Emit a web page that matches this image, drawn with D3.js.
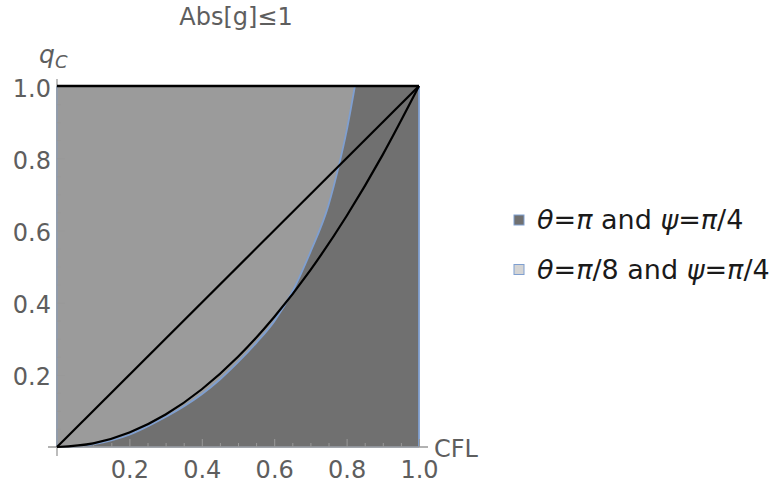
<!DOCTYPE html>
<html>
<head>
<meta charset="utf-8">
<script src="https://cdn.jsdelivr.net/npm/d3@7"></script>
<style>
  html, body { margin: 0; padding: 0; background: #ffffff; }
  svg { display: block; font-family: "DejaVu Sans", sans-serif; }
</style>
</head>
<body>
<svg id="chart" width="772" height="486"></svg>
<script>
// ---- data ----
const titleText = "Abs[g]\u22641";
const xTickValues = [0.2, 0.4, 0.6, 0.8, 1.0];
const yTickValues = [0.2, 0.4, 0.6, 0.8, 1.0];
const minorTickValues = [0.05,0.1,0.15,0.25,0.3,0.35,0.45,0.5,0.55,0.65,0.7,0.75,0.85,0.9,0.95];
// boundary of the theta=pi/8 region (blue curve)
const boundaryCFL = [0, 0.05, 0.1, 0.15, 0.2, 0.25, 0.3, 0.35, 0.4, 0.45, 0.5, 0.55, 0.6, 0.65, 0.7, 0.75, 0.78, 0.8, 0.823];
const boundaryQ   = [0, 0.001, 0.007, 0.018, 0.034, 0.057, 0.083, 0.112, 0.146, 0.187, 0.235, 0.288, 0.348, 0.43, 0.54, 0.67, 0.785, 0.875, 1.0];
// black curve
const curveCFL = [0, 0.1, 0.2, 0.3, 0.4, 0.5, 0.6, 0.7, 0.8, 0.9, 1.0];
const curveQ   = [0, 0.01, 0.04, 0.09, 0.16, 0.25, 0.36, 0.49, 0.64, 0.81, 1.0];
// black diagonal
const diagCFL = [0, 1];
const diagQ   = [0, 1];
// black top line
const topCFL = [0, 1];
const topQ   = [1, 1];
const legendItems = [
  {key: "pi", parts: [["\u03B8", true], ["=", false], ["\u03C0", true], [" and ", false], ["\u03C8", true], ["=", false], ["\u03C0", true], ["/4", false]]},
  {key: "pi8", parts: [["\u03B8", true], ["=", false], ["\u03C0", true], ["/8 and ", false], ["\u03C8", true], ["=", false], ["\u03C0", true], ["/4", false]]}
];

// ---- styles ----
const darkFill = "#707070";
const lightFill = "#9b9b9b";
const blue = "#7f9fd0";
const axisCol = "#999999";
const labelCol = "#5e5e5e";

const svg = d3.select("#chart");
const x = d3.scaleLinear().domain([0, 1]).range([57, 419]);
const y = d3.scaleLinear().domain([0, 1]).range([447, 86]);

const zip = (a, b) => a.map((v, i) => [v, b[i]]);
const line = d3.line().x(d => x(d[0])).y(d => y(d[1]));
const smooth = d3.line().x(d => x(d[0])).y(d => y(d[1])).curve(d3.curveMonotoneX);

// dark region (whole square)
svg.append("rect")
  .attr("x", x(0)).attr("y", y(1))
  .attr("width", x(1) - x(0)).attr("height", y(0) - y(1))
  .attr("fill", darkFill);

// light region: left edge, top, blue boundary back to origin
const bnd = zip(boundaryCFL, boundaryQ);
const lightPath = "M" + x(0) + "," + y(0) + "L" + x(0) + "," + y(1) +
  smooth(bnd.slice().reverse()).replace(/^M[^LC]*/, "L" + x(boundaryCFL[boundaryCFL.length-1]) + "," + y(1)) + "Z";
svg.append("path").attr("d", lightPath).attr("fill", lightFill);

// blue boundaries
svg.append("path").attr("d", smooth(bnd)).attr("fill", "none").attr("stroke", blue).attr("stroke-width", 1.8);
svg.append("path").attr("d", line([[0,0],[0,1]])).attr("stroke", blue).attr("stroke-width", 1.8);
svg.append("path").attr("d", line([[1,0],[1,1]])).attr("stroke", blue).attr("stroke-width", 1.8);
svg.append("path").attr("d", line([[0,0],[1,0]])).attr("stroke", blue).attr("stroke-width", 1.2);

// axes
const gx = svg.append("g").attr("transform", "translate(0," + y(0) + ")");
gx.call(d3.axisBottom(x).tickValues(xTickValues).tickSize(-8).tickPadding(14).tickFormat(d3.format(".1f")));
const gxm = svg.append("g").attr("transform", "translate(0," + y(0) + ")");
gxm.call(d3.axisBottom(x).tickValues(minorTickValues).tickSize(-4).tickFormat(""));
const gy = svg.append("g").attr("transform", "translate(" + x(0) + ",0)");
gy.call(d3.axisLeft(y).tickValues(yTickValues).tickSize(-8).tickPadding(6).tickFormat(d3.format(".1f")));
const gym = svg.append("g").attr("transform", "translate(" + x(0) + ",0)");
gym.call(d3.axisLeft(y).tickValues(minorTickValues).tickSize(-4).tickFormat(""));
[gx, gxm, gy, gym].forEach(g => {
  g.select(".domain").remove();
  g.selectAll(".tick line").attr("stroke", axisCol).attr("stroke-width", 1);
  g.selectAll("text").attr("fill", labelCol).attr("font-size", 24).attr("font-family", "DejaVu Sans, sans-serif");
});
gx.selectAll(".tick text").attr("dy", "0.71em").attr("y", 14);
gy.selectAll(".tick text").attr("dy", "0.42em");
// axis lines (Mathematica-style, extending past the origin)
svg.append("line").attr("x1", 48).attr("x2", 428).attr("y1", y(0)).attr("y2", y(0)).attr("stroke", axisCol).attr("stroke-width", 1.3);
svg.append("line").attr("x1", x(0)).attr("x2", x(0)).attr("y1", 456).attr("y2", 79).attr("stroke", axisCol).attr("stroke-width", 1.3);

// black lines
svg.append("path").attr("d", line(zip(diagCFL, diagQ))).attr("fill", "none").attr("stroke", "#000").attr("stroke-width", 2.2);
svg.append("path").attr("d", smooth(zip(curveCFL, curveQ))).attr("fill", "none").attr("stroke", "#000").attr("stroke-width", 2.2);
svg.append("path").attr("d", line(zip(topCFL, topQ))).attr("fill", "none").attr("stroke", "#000").attr("stroke-width", 2.4);

// title
svg.append("text").attr("x", 236).attr("y", 25).attr("text-anchor", "middle")
  .attr("font-size", 24).attr("fill", labelCol).text(titleText);

// axis labels
const ql = svg.append("text").attr("x", 39).attr("y", 63).attr("fill", labelCol).attr("font-style", "italic");
ql.append("tspan").attr("font-size", 25).text("q");
ql.append("tspan").attr("font-size", 18).attr("dy", 5).text("C");
svg.append("text").attr("x", 434).attr("y", 457).attr("font-size", 24).attr("fill", labelCol).text("CFL");

// legend
const legFills = {pi: darkFill, pi8: "#d4d4d4"};
const legY = [220, 269.5];
legendItems.forEach((it, i) => {
  svg.append("rect").attr("x", 514).attr("y", legY[i] - 5).attr("width", 10).attr("height", 10)
    .attr("fill", legFills[it.key]).attr("stroke", blue).attr("stroke-width", 1);
  const t = svg.append("text").attr("x", 537).attr("y", legY[i] + 9).attr("font-size", 27).attr("fill", "#1a1a1a");
  it.parts.forEach(p => {
    t.append("tspan").attr("font-style", p[1] ? "italic" : "normal").text(p[0]);
  });
});
</script>
</body>
</html>
